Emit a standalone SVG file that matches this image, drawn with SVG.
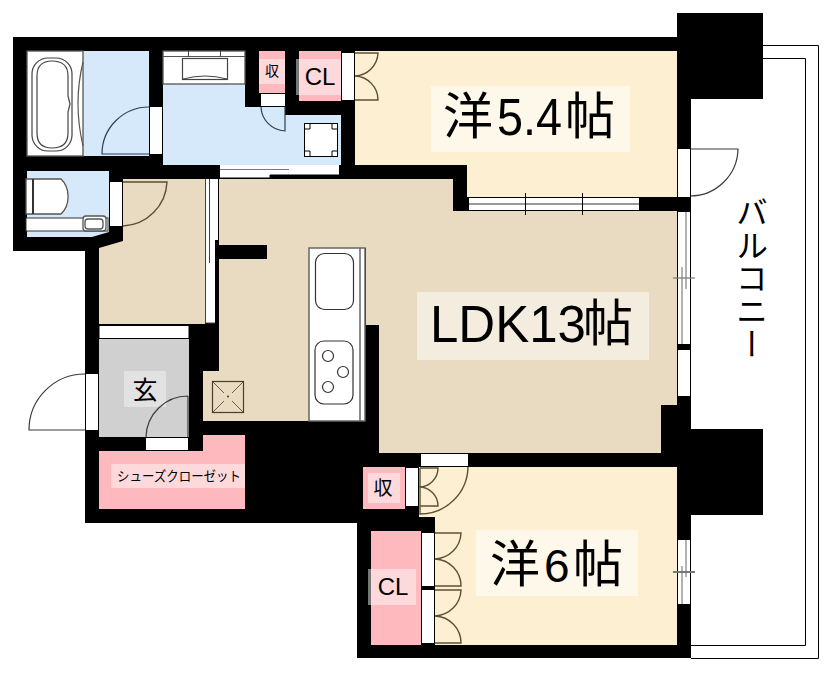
<svg xmlns="http://www.w3.org/2000/svg" width="832" height="679" viewBox="0 0 832 679">
<style>
.w{fill:#000}
.o{fill:#fff}
.d{fill:none;stroke:#3a3a3a;stroke-width:1.2}
.db{fill:none;stroke:#2d3f52;stroke-width:1.2}
.dy{fill:none;stroke:#5c4f33;stroke-width:1.4}
.f{fill:#fff;stroke:#555;stroke-width:1.3}
.k{fill:#fff;stroke:#000;stroke-width:1}
.gl{fill:none;stroke:#666;stroke-width:1}
.t{font-family:"Liberation Sans","Noto Sans CJK JP",sans-serif;fill:#000}
.j{font-family:"Noto Sans CJK JP","Liberation Sans",sans-serif;fill:#000}
</style>
<rect width="832" height="679" fill="#fff"/>
<g id="balcony">
<path d="M763 45.500H818.500V658.500H691" fill="none" stroke="#000" stroke-width="1"/>
<path d="M763 58.500H805.500V645.500H691" fill="none" stroke="#000" stroke-width="1"/>
<text class="j" font-size="32" x="752" y="196" letter-spacing="1" style="writing-mode:vertical-rl">バルコニー</text>
</g>
<g id="walls">
<path class="w" d="M13 37H677V13H763V99H691V429H763V515H691V658H357V523H85V251H13Z"/>
</g>
<g id="bath">
<rect x="27" y="51" width="122" height="105" fill="#d6e9fb"/>
<rect x="27" y="51" width="56" height="105" class="f"/>
<rect x="32" y="58" width="40" height="93" rx="16" fill="none" stroke="#444" stroke-width="1.2"/>
<path d="M37 76Q37 61 52 61Q68 61 68 76V96L70 104L68 112V133Q68 148 52 148Q37 148 37 133Z" fill="none" stroke="#444" stroke-width="1.2"/>
<path d="M83 62Q73 103 83 146" fill="none" stroke="#555" stroke-width="1.2"/>
<rect x="150" y="107" width="12" height="47" class="o"/>
<path class="db" d="M149 107A47 47 0 0 0 102 154H149"/>
</g>
<g id="washroom">
<path fill="#d6e9fb" d="M163 51H245V107H285V115H341V165H163Z"/>
<rect x="163" y="51" width="82" height="33" class="f"/>
<path d="M163 56.500H245" stroke="#555"/>
<rect x="182.500" y="58.500" width="45" height="21" fill="#fff" stroke="#444" stroke-width="1.2"/>
<path d="M188.500 51V57M220.500 51V57M183 79Q205 73 227 79" fill="none" stroke="#444" stroke-width="1"/>
<rect x="304.500" y="123.500" width="33" height="33" class="k"/>
<path d="M304.500 129H310V123.500M337.500 129H332V123.500M304.500 151H310V156.500M337.500 151H332V156.500" fill="none" stroke="#000"/>
<path d="M220 165H339V175H270V178H220Z" class="o"/>
<path d="M220 169.500H289" stroke="#777" stroke-width="1.200"/>
<path d="M220 178H270V175H339" fill="none" stroke="#000"/>
<path class="db" d="M261 107A25 25 0 0 0 285 131V107"/>
</g>
<g id="storage1">
<rect x="259" y="51" width="26" height="42" fill="#fdb9bd"/>
<rect x="259" y="59" width="26" height="25" fill="#fed9db"/>
<rect x="261" y="94" width="24" height="12" class="o"/>
<text class="j" x="272" y="76" font-size="14" text-anchor="middle" fill="#333">収</text>
</g>
<g id="closet1">
<rect x="299" y="51" width="42" height="50" fill="#fdb9bd"/>
<rect x="296" y="59" width="45" height="36" fill="#fed9db"/>
<rect x="296" y="59" width="3" height="36" fill="#777"/>
<text class="t" x="320" y="85" font-size="24" text-anchor="middle">CL</text>
<rect x="342" y="53" width="12" height="47" class="o"/>
</g>
<g id="room54">
<path fill="#fdf0d2" d="M355 51H677V197H467V165H355Z"/>
<rect x="431" y="86" width="199" height="66" fill="#fdf8e9"/>
<path class="dy" d="M355 53H378A24 24 0 0 1 355 76M355 100H378A24 24 0 0 0 355 76"/>
<text class="j" x="443" y="134" font-size="50">洋</text>
<text class="t" x="497" y="135" font-size="51" textLength="65" lengthAdjust="spacingAndGlyphs">5.4</text>
<text class="j" x="565" y="134" font-size="50">帖</text>
</g>
<g id="toilet">
<path fill="#d6e9fb" d="M27 171H109V232L92 237H27Z"/>
<path d="M26 179H61A18 22 0 0 1 61 214H26Z" class="f"/>
<path d="M33 179V214" stroke="#333" stroke-width="2"/>
<rect x="26" y="218" width="82" height="13" class="o" stroke="#333"/>
<rect x="83" y="216" width="23" height="15" rx="3" class="f"/>
<rect x="85" y="219" width="18" height="10" rx="3" class="f"/>
<rect x="110" y="182" width="12" height="44" class="o"/>
</g>
<g id="hall">
<path fill="#e9dbc2" d="M123 179H205V324H99V248L123 241Z"/>
<path class="dy" d="M123 182H167A46 46 0 0 1 123 226"/>
<rect x="206" y="179" width="9" height="144" class="o"/>
<rect x="215" y="179" width="3" height="61" class="o"/>
<path d="M205.500 179V323H215M209.500 179V263" fill="none" stroke="#444"/>
<rect x="99" y="325.500" width="90" height="13" class="k"/>
</g>
<g id="ldk">
<path fill="#e9dbc2" d="M219 179H453V211H677V405H661V453H379V325H366V248H219Z"/>
<path fill="#e9dbc2" d="M219 248H309V421H203V371H219Z"/>
<rect x="215" y="245" width="52" height="14" class="w"/>
<rect x="215" y="240" width="4" height="83" class="w"/>
<rect x="417" y="292" width="232" height="68" fill="#f4ecdf"/>
<text class="t" x="430" y="342" font-size="51">LDK13</text>
<text class="j" x="583" y="341" font-size="50">帖</text>
</g>
<g id="kitchen">
<rect x="309" y="248" width="56" height="173" fill="#fff" stroke="#666" stroke-width="1.5"/>
<path d="M360 248V421" stroke="#666" stroke-width="1.5"/>
<rect x="315.500" y="253.500" width="38" height="56" rx="9" fill="#fff" stroke="#333" stroke-width="1.2"/>
<rect x="315" y="341" width="38" height="63" rx="9" fill="#fff" stroke="#333" stroke-width="1.2"/>
<circle cx="328" cy="356" r="5.500" fill="#fff" stroke="#333" stroke-width="1.2"/>
<circle cx="343" cy="372" r="5.500" fill="#fff" stroke="#333" stroke-width="1.2"/>
<circle cx="328" cy="387" r="5.500" fill="#fff" stroke="#333" stroke-width="1.2"/>
<rect x="212.500" y="381.500" width="31" height="31" fill="none" stroke="#4a3f2e" stroke-width="1.2"/>
<path d="M213 382L224 393M243 382L232 393M213 412L224 401M243 412L232 401" stroke="#4a3f2e" stroke-width=".8"/>
<circle cx="228" cy="396.500" r="1" fill="#333"/>
</g>
<g id="genkan">
<rect x="99" y="339" width="90" height="98" fill="#d0d0d0"/>
<rect x="124" y="371" width="42" height="36" fill="#e2e2e2"/>
<text class="j" x="145" y="399" font-size="25" text-anchor="middle">玄</text>
<rect x="86" y="374" width="12" height="56" class="o"/>
<path d="M85 374A56 56 0 0 0 29 430H85" class="d"/>
<rect x="146" y="438" width="42" height="12" class="o"/>
<path class="d" d="M188 396A42 42 0 0 0 146 437M188 396V437"/>
</g>
<g id="shoes">
<path fill="#fdb9bd" d="M99 451H203V435H245V509H99Z"/>
<rect x="111" y="464" width="134" height="24" fill="#fed9db"/>
<text class="j" x="117" y="481" font-size="13.500" textLength="124" lengthAdjust="spacingAndGlyphs">シューズクローゼット</text>
</g>
<g id="storage2">
<rect x="363" y="467" width="42" height="42" fill="#fdb9bd"/>
<rect x="368" y="473" width="32" height="30" fill="#fed9db"/>
<text class="j" x="383" y="495" font-size="19" text-anchor="middle">収</text>
<rect x="406" y="468" width="12" height="38" class="o"/>
</g>
<g id="room6">
<path fill="#fdf0d2" d="M419 467H677V645H435V517H419Z"/>
<rect x="476" y="530" width="162" height="66" fill="#fdf8e9"/>
<rect x="421" y="454" width="47" height="12" class="o"/>
<path class="dy" d="M420 468H438A19 19 0 0 1 419 487M420 506H438A19 19 0 0 0 419 487M468 467A48 48 0 0 1 420 514V468"/>
<text class="j" x="490" y="582" font-size="50">洋</text>
<text class="t" x="544" y="582" font-size="46">6</text>
<text class="j" x="573" y="582" font-size="50">帖</text>
</g>
<g id="closet2">
<rect x="371" y="531" width="50" height="114" fill="#fdb9bd"/>
<rect x="368" y="569" width="48" height="36" fill="#fed9db"/>
<rect x="368" y="569" width="3" height="36" fill="#777"/>
<text class="t" x="393" y="595" font-size="24" text-anchor="middle">CL</text>
<rect x="422" y="533" width="12" height="53" class="o"/>
<rect x="422" y="590" width="12" height="53" class="o"/>
<path class="dy" d="M435 533H461A27 27 0 0 1 435 559M435 586H461A27 27 0 0 0 435 559M435 590H461A27 27 0 0 1 435 616M435 643H461A27 27 0 0 0 435 616"/>
</g>
<g id="windows">
<rect x="469" y="198" width="170" height="13" class="o"/>
<path d="M469 197.500H639M469 210.500H639" stroke="#000"/>
<path d="M469 204H639" stroke="#777" stroke-width="1.500"/>
<path d="M525.500 193V215M582.500 193V215" stroke="#000"/>
<rect x="678" y="149" width="12" height="48" class="o"/>
<path d="M690 149H738A48 48 0 0 1 690 196" class="d"/>
<rect x="678" y="212" width="12" height="132" class="o"/>
<rect x="678" y="350" width="12" height="46" class="o"/>
<path d="M690.500 99V429M677.500 212V396" fill="none" stroke="#000"/>
<path d="M682 267V344M686 212V289" class="gl"/>
<path d="M673 278H695" stroke="#777" stroke-width="1.200"/>
<rect x="678" y="540" width="12" height="64" class="o"/>
<path d="M682 566V604M686 540V577" fill="none" stroke="#666"/>
<path d="M673 572H695" stroke="#777" stroke-width="2"/>
</g>
</svg>
